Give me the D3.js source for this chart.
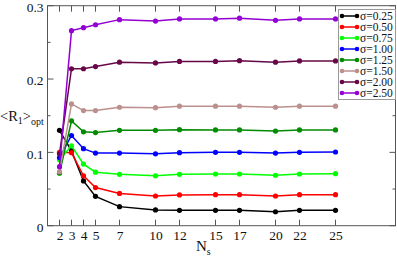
<!DOCTYPE html>
<html><head><meta charset="utf-8">
<script src="https://cdn.jsdelivr.net/npm/d3@7"></script>
<style>body{margin:0;background:#fff}svg{display:block}</style>
</head><body>
<svg id="c" width="397" height="259"></svg>
<script>
const ns = [2,3,4,5,7,10,12,15,17,20,22,25];
const s025 = [0.130,0.102,0.061,0.040,0.026,0.0215,0.021,0.021,0.021,0.019,0.021,0.021];
const s050 = [0.100,0.0996,0.068,0.052,0.044,0.0405,0.042,0.0423,0.0423,0.0405,0.0423,0.0423];
const s075 = [0.090,0.109,0.084,0.073,0.070,0.068,0.070,0.0705,0.0705,0.0688,0.0705,0.071];
const s100 = [0.093,0.123,0.105,0.099,0.099,0.098,0.0996,0.100,0.100,0.099,0.100,0.1005];
const s125 = [0.0715,0.143,0.128,0.127,0.130,0.130,0.131,0.1306,0.1306,0.129,0.1306,0.1306];
const s150 = [0.0737,0.166,0.157,0.157,0.1615,0.161,0.163,0.163,0.163,0.1615,0.163,0.163];
const s200 = [0.098,0.214,0.214,0.217,0.223,0.222,0.224,0.224,0.225,0.223,0.2247,0.2247];
const s250 = [0.0805,0.266,0.270,0.274,0.281,0.279,0.282,0.282,0.283,0.280,0.282,0.282];
const labels = ["σ=0.25","σ=0.50","σ=0.75","σ=1.00","σ=1.25","σ=1.50","σ=2.00","σ=2.50"];
const colors = ["#000000","#ff0000","#00ff00","#0000ff","#008b00","#bc8f8f","#670748","#9400d3"];
const seriesVals = [s025,s050,s075,s100,s125,s150,s200,s250];
const yMajor = [0,0.1,0.2,0.3];
const yMinor = [0.05,0.15,0.25];

const FONT = "'Liberation Serif', 'Times New Roman', Times, 'DejaVu Serif', serif";
const svg = d3.select("#c");
const L=47.5, R=395.5, T=5.7, B=225.7;
const x = d3.scaleLinear().domain([1,30]).range([L,R]);
const y = d3.scaleLinear().domain([0,0.3]).range([B,T]);

const frameCol="#555";
const g = svg.append("g");
ns.forEach(n=>{
  g.append("line").attr("x1",x(n)).attr("x2",x(n)).attr("y1",B).attr("y2",B-6).attr("stroke",frameCol);
  g.append("line").attr("x1",x(n)).attr("x2",x(n)).attr("y1",T).attr("y2",T+6).attr("stroke",frameCol);
});
yMajor.forEach(v=>{
  g.append("line").attr("x1",L).attr("x2",L+6).attr("y1",y(v)).attr("y2",y(v)).attr("stroke",frameCol);
  g.append("line").attr("x1",R).attr("x2",R-6).attr("y1",y(v)).attr("y2",y(v)).attr("stroke",frameCol);
});
yMinor.forEach(v=>{
  g.append("line").attr("x1",L).attr("x2",L+3).attr("y1",y(v)).attr("y2",y(v)).attr("stroke",frameCol);
  g.append("line").attr("x1",R).attr("x2",R-3).attr("y1",y(v)).attr("y2",y(v)).attr("stroke",frameCol);
});
const xAxis = d3.axisBottom(x).tickValues(ns).tickSize(0).tickPadding(5).tickFormat(d3.format("d"));
const xa = svg.append("g").attr("transform",`translate(0,${B})`).call(xAxis);
xa.select(".domain").remove();
xa.selectAll("text").style("font-family",FONT).style("font-size","13.5px").attr("fill","#111");
const yAxis = d3.axisLeft(y).tickValues(yMajor).tickSize(0).tickPadding(4).tickFormat(d=>d===0?"0":d3.format(".1f")(d));
const ya = svg.append("g").attr("transform",`translate(${L},0)`).call(yAxis);
ya.select(".domain").remove();
ya.selectAll("text").style("font-family",FONT).style("font-size","13.5px").attr("fill","#111").attr("dy","0.42em");

svg.append("rect").attr("x",L).attr("y",T).attr("width",R-L).attr("height",B-T).attr("fill","none").attr("stroke",frameCol);

const line = d3.line().x((d,i)=>x(ns[i])).y(d=>y(d));
seriesVals.forEach((vals,k)=>{
  svg.append("path").datum(vals).attr("d",line).attr("fill","none").attr("stroke",colors[k]).attr("stroke-width",1.5);
  svg.selectAll(null).data(vals).enter().append("circle")
    .attr("cx",(d,i)=>x(ns[i])).attr("cy",d=>y(d)).attr("r",2.6).attr("fill",colors[k]);
});

const lg = svg.append("g");
lg.append("rect").attr("x",338.5).attr("y",9.5).attr("width",57).attr("height",90).attr("fill","#fff").attr("stroke","#999");
labels.forEach((lab,k)=>{
  const yy = 16 + k*11;
  lg.append("line").attr("x1",342).attr("x2",357).attr("y1",yy).attr("y2",yy).attr("stroke",colors[k]).attr("stroke-width",1.5);
  lg.append("circle").attr("cx",342).attr("cy",yy).attr("r",2.3).attr("fill",colors[k]);
  lg.append("circle").attr("cx",357).attr("cy",yy).attr("r",2.3).attr("fill",colors[k]);
  lg.append("text").attr("x",360).attr("y",yy+4).style("font-family",FONT).style("font-size","11.5px").attr("fill","#111").text(lab);
});

const xt = svg.append("text").attr("x",196).attr("y",251).style("font-family",FONT).style("font-size","15px").attr("fill","#111");
xt.append("tspan").text("N");
xt.append("tspan").style("font-size","10px").attr("dy",4).text("s");
const yt = svg.append("text").attr("x",0).attr("y",121).style("font-family",FONT).style("font-size","14.5px").attr("fill","#111");
yt.append("tspan").text("<R");
yt.append("tspan").style("font-size","10px").attr("dy",3).text("1");
yt.append("tspan").attr("dy",-3).text(">");
yt.append("tspan").style("font-size","10px").attr("dy",4).text("opt");
</script>
</body></html>
